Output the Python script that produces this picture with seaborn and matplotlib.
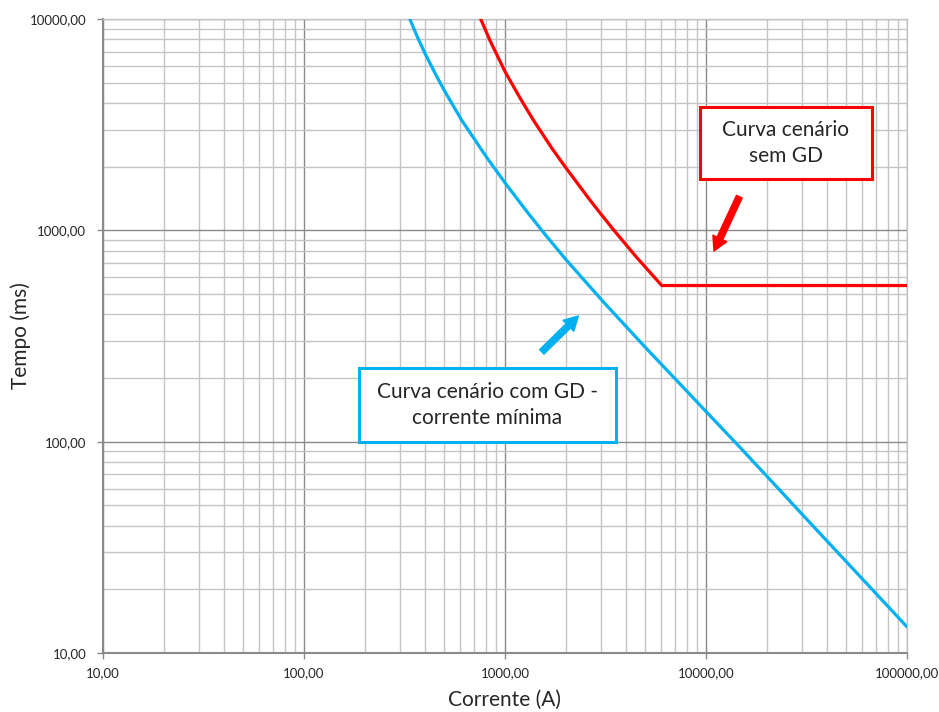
import numpy as np
import pandas as pd
import seaborn as sns
import matplotlib.pyplot as plt
from matplotlib.patches import Rectangle
from matplotlib.ticker import FixedLocator, FixedFormatter, LogLocator, NullFormatter

# Curva cenário com GD - corrente mínima
corrente_gd = [336, 365, 400, 450, 502, 609, 811, 1000, 1282, 1600, 2028, 3083, 5070, 7000,
               10070, 14760, 22900, 29900, 100000]
tempo_gd = [10000, 8300, 6870, 5510, 4540, 3320, 2213, 1679, 1230, 944, 720, 459, 275, 199,
            138, 94, 60, 45.6, 13.3]

# Curva cenário sem GD
corrente_sem = [757, 841, 1000, 1180, 1383, 1706, 1990, 2648, 2972, 3500, 4500, 6025, 100000]
tempo_sem = [10000, 7930, 5640, 4276, 3326, 2455, 2000, 1390, 1208, 995, 748, 548, 548]

x_ticks = [10, 100, 1000, 10000, 100000]
x_labels = ['10,00', '100,00', '1000,00', '10000,00', '100000,00']
y_ticks = [10, 100, 1000, 10000]
y_labels = ['10,00', '100,00', '1000,00', '10000,00']

df = pd.concat([
    pd.DataFrame({'Corrente': corrente_gd, 'Tempo': tempo_gd, 'Curva': 'com GD'}),
    pd.DataFrame({'Corrente': corrente_sem, 'Tempo': tempo_sem, 'Curva': 'sem GD'}),
])

sns.set_style('white')
plt.rcParams['font.family'] = ['Lato', 'DejaVu Sans']

azul = '#00b0f0'
vermelho = '#ff0000'
grid_maior = '#8a8a8a'
grid_menor = '#c4c4c4'

fig = plt.figure(figsize=(9.39, 7.12), dpi=100)
ax = fig.add_axes([103 / 939, 1 - 653 / 712, 804 / 939, 634 / 712])

sns.lineplot(data=df, x='Corrente', y='Tempo', hue='Curva',
             palette={'com GD': azul, 'sem GD': vermelho},
             estimator=None, legend=False, linewidth=2.3, ax=ax, zorder=3)

ax.set_xscale('log')
ax.set_yscale('log')
ax.set_xlim(10, 100000)
ax.set_ylim(10, 10000)

ax.xaxis.set_major_locator(FixedLocator(x_ticks))
ax.xaxis.set_major_formatter(FixedFormatter(x_labels))
ax.yaxis.set_major_locator(FixedLocator(y_ticks))
ax.yaxis.set_major_formatter(FixedFormatter(y_labels))
ax.xaxis.set_minor_locator(LogLocator(base=10, subs=np.arange(2, 10)))
ax.yaxis.set_minor_locator(LogLocator(base=10, subs=np.arange(2, 10)))
ax.xaxis.set_minor_formatter(NullFormatter())
ax.yaxis.set_minor_formatter(NullFormatter())

ax.grid(True, which='major', color=grid_maior, linewidth=1.0)
ax.grid(True, which='minor', color=grid_menor, linewidth=1.0)
ax.set_axisbelow(True)

ax.tick_params(which='major', direction='out', length=4, width=1, color=grid_maior,
               labelsize=9.5, pad=6, left=True, bottom=True)
ax.tick_params(which='minor', length=0)
ax.tick_params(axis='y', pad=8)

for lado in ['left', 'bottom']:
    ax.spines[lado].set_color(grid_maior)
    ax.spines[lado].set_linewidth(1.5)
for lado in ['top', 'right']:
    ax.spines[lado].set_color(grid_menor)
    ax.spines[lado].set_linewidth(1.0)

ax.set_xlabel('Corrente (A)', fontsize=15, labelpad=8)
ax.set_ylabel('Tempo (ms)', fontsize=15, labelpad=-1)

# Caixas de texto
ax.add_patch(Rectangle((0.3188, 0.3333), 0.3189, 0.1158, transform=ax.transAxes,
                       facecolor='white', edgecolor=azul, linewidth=2.2, zorder=5))
ax.text(0.478, 0.391, 'Curva cenário com GD -\ncorrente mínima', transform=ax.transAxes,
        ha='center', va='center', fontsize=15, linespacing=1.35, zorder=6)

ax.add_patch(Rectangle((0.7425, 0.7472), 0.2136, 0.1136, transform=ax.transAxes,
                       facecolor='white', edgecolor=vermelho, linewidth=2.2, zorder=5))
ax.text(0.849, 0.804, 'Curva cenário\nsem GD', transform=ax.transAxes,
        ha='center', va='center', fontsize=15, linespacing=1.35, zorder=6)

# Setas
ax.annotate('', xy=(2317, 393), xytext=(1524, 266),
            arrowprops=dict(arrowstyle='simple,head_length=1.0,head_width=1.1,tail_width=0.45',
                            color=azul, shrinkA=0, shrinkB=0), zorder=6)
ax.annotate('', xy=(10960, 798), xytext=(14650, 1443),
            arrowprops=dict(arrowstyle='simple,head_length=1.0,head_width=1.1,tail_width=0.45',
                            color=vermelho, shrinkA=0, shrinkB=0), zorder=6)

fig.savefig('out.png', dpi=100)
plt.close(fig)
